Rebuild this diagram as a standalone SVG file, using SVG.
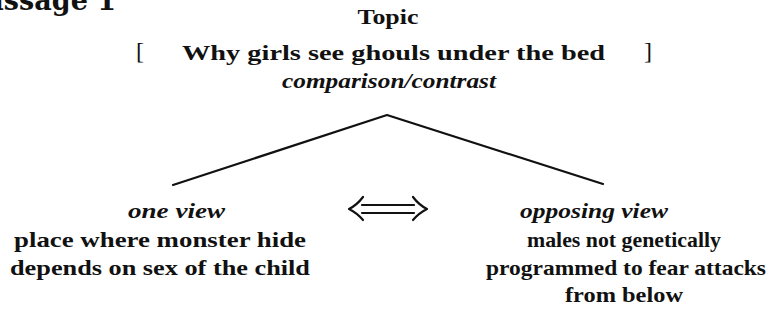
<svg xmlns="http://www.w3.org/2000/svg" width="776" height="323" viewBox="0 0 776 323">
  <style>
    .t { font-family: "Liberation Serif", "DejaVu Serif", serif; font-weight: bold; font-size: 22px; fill: #111; }
    .i { font-family: "Liberation Serif", "DejaVu Serif", serif; font-style: italic; font-weight: bold; font-size: 21px; fill: #111; }
    .br { font-family: "Liberation Serif", "DejaVu Serif", serif; font-size: 24px; fill: #111; }
    .ln { fill: none; stroke: #111; stroke-width: 2.2; stroke-linecap: round; stroke-linejoin: round; }
  </style>
  <rect width="776" height="323" fill="#fff"/>

  <g id="heading">
    <text x="116" y="10" text-anchor="end" font-family="DejaVu Serif, serif" font-size="27" font-weight="900" fill="#111">Passage 1</text>
  </g>

  <g id="topic">
    <text class="t" x="388" y="24" text-anchor="middle" textLength="61" lengthAdjust="spacingAndGlyphs">Topic</text>
    <text class="br" x="136" y="59">[</text>
    <text class="t" x="182" y="60" textLength="423" lengthAdjust="spacingAndGlyphs">Why girls see ghouls under the bed</text>
    <text class="br" x="644" y="59">]</text>
    <text class="i" x="282" y="88" textLength="214" lengthAdjust="spacingAndGlyphs">comparison/contrast</text>
  </g>

  <g id="connectors">
    <polyline class="ln" points="173,185 387,115 603,184"/>
    <g id="double-arrow">
      <path class="ln" d="M362,205 H414 M362,213 H414" stroke-width="2"/>
      <path class="ln" d="M363,197 Q357,205 349,209 Q357,213 363,220" stroke-width="2"/>
      <path class="ln" d="M413,197 Q419,205 427,209 Q419,213 413,220" stroke-width="2"/>
    </g>
  </g>

  <g id="one-view">
    <text class="i" x="128" y="218" textLength="97" lengthAdjust="spacingAndGlyphs">one view</text>
    <text class="t" x="14" y="247" textLength="292" lengthAdjust="spacingAndGlyphs">place where monster hide</text>
    <text class="t" x="10" y="275" textLength="300" lengthAdjust="spacingAndGlyphs">depends on sex of the child</text>
  </g>

  <g id="opposing-view">
    <text class="i" x="520" y="218" textLength="148" lengthAdjust="spacingAndGlyphs">opposing view</text>
    <text class="t" x="527" y="247" textLength="194" lengthAdjust="spacingAndGlyphs">males not genetically</text>
    <text class="t" x="486" y="275" textLength="280" lengthAdjust="spacingAndGlyphs">programmed to fear attacks</text>
    <text class="t" x="565" y="302" textLength="118" lengthAdjust="spacingAndGlyphs">from below</text>
  </g>
</svg>
